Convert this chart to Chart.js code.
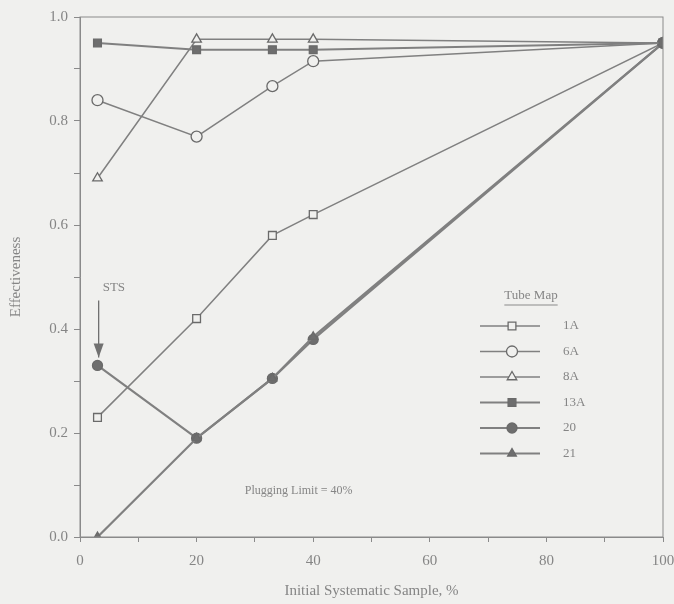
<!DOCTYPE html>
<html>
<head>
<meta charset="utf-8">
<script src="https://cdn.jsdelivr.net/npm/chart.js@4/dist/chart.umd.min.js"></script>
<style>
  html, body { margin: 0; padding: 0; background: #f0f0ee; }
  #wrap { width: 674px; height: 604px; }
</style>
</head>
<body>
<div id="wrap"><canvas id="myChart" width="674" height="604"></canvas></div>
<script>
// sample sizes (%)
const samplePct = [3, 20, 33, 40, 100];

const tubeMaps = ['1A', '6A', '8A', '13A', '20', '21'];

const eff1A  = [0.23, 0.42, 0.58, 0.62, 0.95];
const eff6A  = [0.84, 0.77, 0.867, 0.915, 0.95];
const eff8A  = [0.69, 0.957, 0.957, 0.957, 0.95];
const eff13A = [0.95, 0.937, 0.937, 0.937, 0.95];
const eff20  = [0.33, 0.19, 0.305, 0.38, 0.95];
const eff21  = [0.0, 0.19, 0.305, 0.385, 0.95];

const yTicks = [0, 0.2, 0.4, 0.6, 0.8, 1.0];
const xTicks = [0, 20, 40, 60, 80, 100];

const ink = '#808080';
const textCol = '#858585';
const serif = '"Liberation Serif", "DejaVu Serif", serif';

function pts(arr) {
   return arr.map((v, i) => ({x: samplePct[i], y: v}));
}

// draw order: filled markers on top
const styles = [
   {d: eff1A,  ps: 'rect',     bg: '#f0f0ee', r: 5.5, w: 1.5, o: 5},
   {d: eff6A,  ps: 'circle',   bg: '#f0f0ee', r: 5.5, w: 1.5, o: 4},
   {d: eff8A,  ps: 'triangle', bg: '#f0f0ee', r: 5.5, w: 1.5, o: 3},
   {d: eff13A, ps: 'rect',     bg: '#6e6e6e', r: 5.5, w: 2,   o: 0},
   {d: eff20,  ps: 'circle',   bg: '#6e6e6e', r: 5,   w: 2.2, o: 2},
   {d: eff21,  ps: 'triangle', bg: '#6e6e6e', r: 5,   w: 2.2, o: 1}
];

const datasets = tubeMaps.map((name, i) => ({
   label: name,
   data: pts(styles[i].d),
   order: styles[i].o,
   borderColor: ink,
   backgroundColor: styles[i].bg,
   borderWidth: styles[i].w,
   pointStyle: styles[i].ps,
   pointRadius: styles[i].r,
   pointBorderColor: '#6a6a6a',
   pointBorderWidth: 1.3,
   pointBackgroundColor: styles[i].bg,
   tension: 0
}));

// frame + text notes + legend
const extras = {
   id: 'extras',
   afterDraw(chart) {
      const ctx = chart.ctx;
      const a = chart.chartArea;
      const xs = chart.scales.x, ys = chart.scales.y;
      ctx.save();
      ctx.strokeStyle = '#8a8a8a';
      ctx.lineWidth = 1;
      ctx.strokeRect(a.left, a.top, a.right - a.left, a.bottom - a.top);

      ctx.fillStyle = textCol;
      ctx.font = '13px ' + serif;
      ctx.textAlign = 'left';
      ctx.textBaseline = 'middle';
      // STS arrow
      const sx = xs.getPixelForValue(3.2);
      ctx.fillText('STS', sx + 4, ys.getPixelForValue(0.48));
      ctx.strokeStyle = '#707070';
      ctx.lineWidth = 1.3;
      const yTop = ys.getPixelForValue(0.455), yTip = ys.getPixelForValue(0.345);
      ctx.beginPath();
      ctx.moveTo(sx, yTop);
      ctx.lineTo(sx, yTip);
      ctx.stroke();
      ctx.fillStyle = '#707070';
      ctx.beginPath();
      ctx.moveTo(sx - 5, yTip - 14);
      ctx.lineTo(sx + 5, yTip - 14);
      ctx.lineTo(sx, yTip);
      ctx.closePath();
      ctx.fill();

      ctx.fillStyle = textCol;
      ctx.font = '12px ' + serif;
      ctx.textAlign = 'center';
      ctx.fillText('Plugging Limit = 40%', xs.getPixelForValue(37.5), ys.getPixelForValue(0.088));

      // legend
      const lx = 512, ly0 = 326, gap = 25.5;
      ctx.font = '13px ' + serif;
      ctx.fillText('Tube Map', lx + 19, ly0 - 30);
      const tw = ctx.measureText('Tube Map').width;
      ctx.strokeStyle = '#8a8a8a';
      ctx.lineWidth = 1;
      ctx.beginPath();
      ctx.moveTo(lx + 19 - tw / 2, ly0 - 21);
      ctx.lineTo(lx + 19 + tw / 2, ly0 - 21);
      ctx.stroke();
      chart.data.datasets.forEach((ds, i) => {
         const y = ly0 + i * gap;
         ctx.strokeStyle = ink;
         ctx.lineWidth = ds.borderWidth;
         ctx.beginPath();
         ctx.moveTo(lx - 32, y);
         ctx.lineTo(lx + 28, y);
         ctx.stroke();
         ctx.fillStyle = ds.pointBackgroundColor;
         ctx.strokeStyle = ds.pointBorderColor;
         ctx.lineWidth = ds.pointBorderWidth;
         Chart.helpers.drawPoint(ctx, {pointStyle: ds.pointStyle, radius: ds.pointRadius, borderWidth: ds.pointBorderWidth, rotation: 0}, lx, y);
         ctx.fillStyle = textCol;
         ctx.textAlign = 'left';
         ctx.fillText(ds.label, lx + 51, y);
         ctx.textAlign = 'center';
      });
      ctx.restore();
   }
};

const config = {
   type: 'line',
   data: {datasets: datasets},
   options: {
      responsive: false,
      animation: false,
      layout: {padding: {top: 17, right: 11, left: 3, bottom: 0}},
      plugins: {legend: {display: false}, tooltip: {enabled: false}},
      scales: {
         x: {
            type: 'linear',
            min: 0, max: 100,
            afterBuildTicks: (s) => { s.ticks = [0,10,20,30,40,50,60,70,80,90,100].map(v => ({value: v})); },
            afterFit: (s) => { s.height = 67; s.paddingRight = 0; s.paddingLeft = 0; },
            ticks: {
               color: textCol,
               font: {family: serif, size: 15},
               padding: 10,
               maxRotation: 0,
               autoSkip: false,
               callback: (v) => xTicks.includes(v) ? String(v) : ''
            },
            grid: {drawOnChartArea: false, tickLength: 5, color: '#8a8a8a'},
            border: {color: '#8a8a8a'},
            title: {display: true, text: 'Initial Systematic Sample, %', color: textCol, font: {family: serif, size: 15}, padding: {top: 0, bottom: 4}}
         },
         y: {
            min: 0, max: 1,
            afterBuildTicks: (s) => { s.ticks = [0,0.1,0.2,0.3,0.4,0.5,0.6,0.7,0.8,0.9,1.0].map(v => ({value: v})); },
            afterFit: (s) => { s.width = 77; s.paddingTop = 0; s.paddingBottom = 0; },
            ticks: {
               color: textCol,
               font: {family: serif, size: 15},
               padding: 6,
               autoSkip: false,
               callback: (v) => yTicks.some(t => Math.abs(t - v) < 1e-6) ? v.toFixed(1) : ''
            },
            grid: {drawOnChartArea: false, tickLength: 6, color: '#8a8a8a'},
            border: {color: '#8a8a8a'},
            title: {display: true, text: 'Effectiveness', color: textCol, font: {family: serif, size: 15}, padding: {top: 4, bottom: 2}}
         }
      }
   },
   plugins: [extras]
};

const myChart = new Chart(document.getElementById('myChart'), config);
</script>
</body>
</html>
